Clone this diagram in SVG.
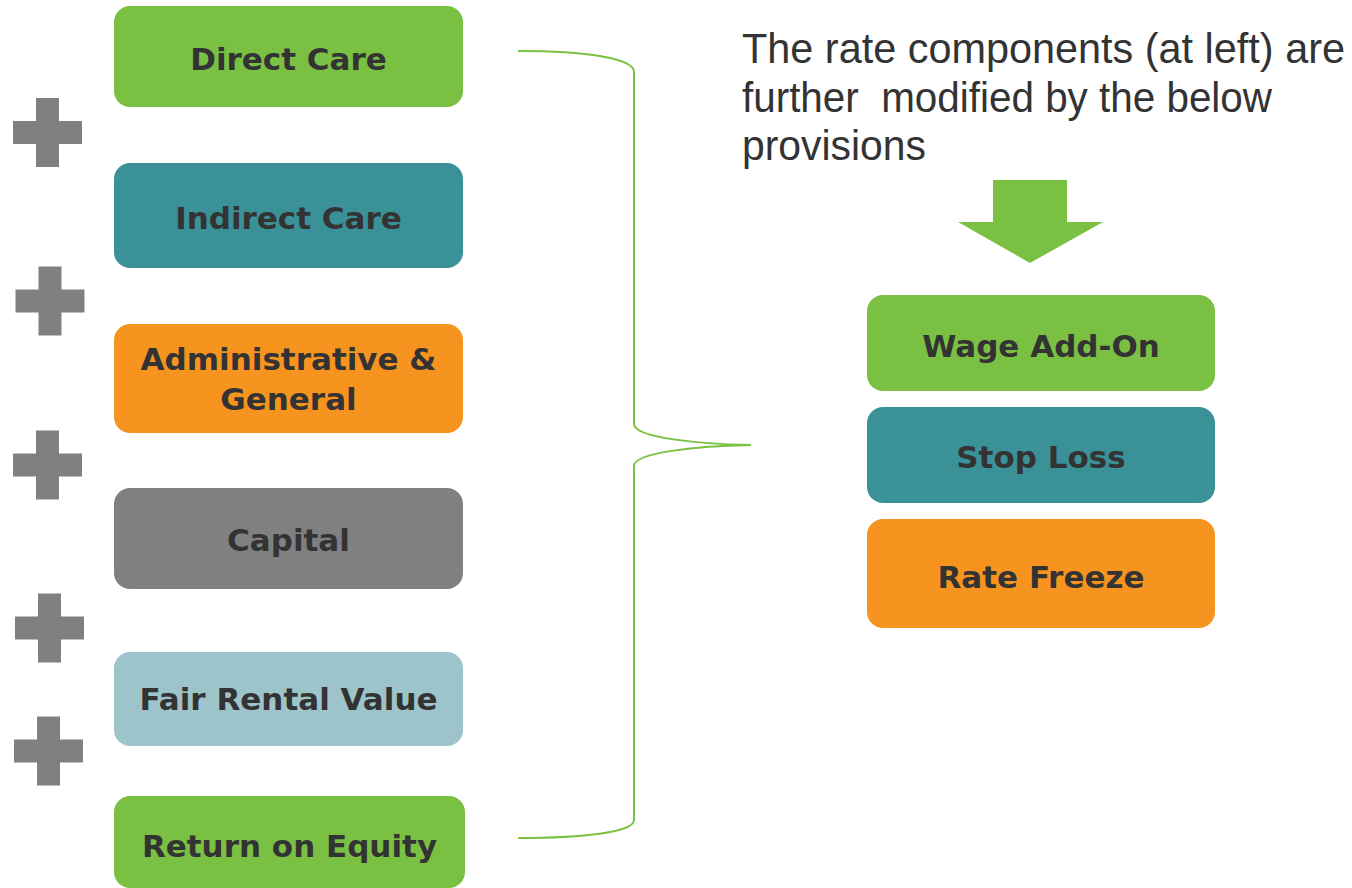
<svg xmlns="http://www.w3.org/2000/svg" width="1352" height="888" viewBox="0 0 1352 888">
<style>
.lbl{font-family:"DejaVu Sans",Verdana,sans-serif;font-weight:bold;font-size:31px;fill:#333333;text-anchor:middle}
.head{font-family:"Liberation Sans Narrow","Liberation Sans",Arial,sans-serif;font-size:42px;fill:#333333}
.plus{fill:#808080}
.green{fill:#7AC143}
.teal{fill:#3A9198}
.orange{fill:#F7941F}
.gray{fill:#808080}
.light{fill:#9DC4CA}
</style>
<defs>
<path id="plus" d="M-11.5,-34.5 H11.5 V-11.5 H34.5 V11.5 H11.5 V34.5 H-11.5 V11.5 H-34.5 V-11.5 H-11.5 Z"/>
</defs>
<rect width="1352" height="888" fill="#ffffff"/>

<g id="plus-signs" class="plus">
<use href="#plus" x="47.5" y="132.5"/>
<use href="#plus" x="50" y="301"/>
<use href="#plus" x="47.5" y="465"/>
<use href="#plus" x="49.5" y="628"/>
<use href="#plus" x="48.5" y="751"/>
</g>

<g id="direct-care"><rect class="green" x="114" y="6" width="349" height="101" rx="16"/><text class="lbl" x="288.5" y="70">Direct Care</text></g>
<g id="indirect-care"><rect class="teal" x="114" y="163" width="349" height="105" rx="16"/><text class="lbl" x="288.5" y="229">Indirect Care</text></g>
<g id="admin-general"><rect class="orange" x="114" y="324" width="349" height="109" rx="16"/><text class="lbl" x="288.5" y="370">Administrative &amp;</text><text class="lbl" x="288.5" y="410">General</text></g>
<g id="capital"><rect class="gray" x="114" y="488" width="349" height="101" rx="16"/><text class="lbl" x="288.5" y="551">Capital</text></g>
<g id="fair-rental-value"><rect class="light" x="114" y="652" width="349" height="94" rx="16"/><text class="lbl" x="288.5" y="710">Fair Rental Value</text></g>
<g id="return-on-equity"><rect class="green" x="114" y="796" width="351" height="92" rx="16"/><text class="lbl" x="289.5" y="857">Return on Equity</text></g>

<g id="connectors">
<path d="M518,51 C585,51 634,58 634,72 L634,424 C634,438 700,444 751,445 C700,446 634,452 634,466 L634,820 C634,832 585,838 518,838" fill="none" stroke="#7AC143" stroke-width="2"/>
<path d="M993,180 H1067 V222 H1103 L1030,263 L958,222 H993 Z" fill="#7AC143"/>
</g>

<g id="heading">
<text class="head" x="742" y="63" textLength="603" lengthAdjust="spacingAndGlyphs">The rate components (at left) are</text>
<text class="head" x="742" y="112" textLength="530" lengthAdjust="spacingAndGlyphs" xml:space="preserve">further  modified by the below</text>
<text class="head" x="742" y="160" textLength="184" lengthAdjust="spacingAndGlyphs">provisions</text>
</g>

<g id="wage-add-on"><rect class="green" x="867" y="295" width="348" height="96" rx="16"/><text class="lbl" x="1041" y="357">Wage Add-On</text></g>
<g id="stop-loss"><rect class="teal" x="867" y="407" width="348" height="96" rx="16"/><text class="lbl" x="1041" y="468">Stop Loss</text></g>
<g id="rate-freeze"><rect class="orange" x="867" y="519" width="348" height="109" rx="16"/><text class="lbl" x="1041" y="588">Rate Freeze</text></g>
</svg>
